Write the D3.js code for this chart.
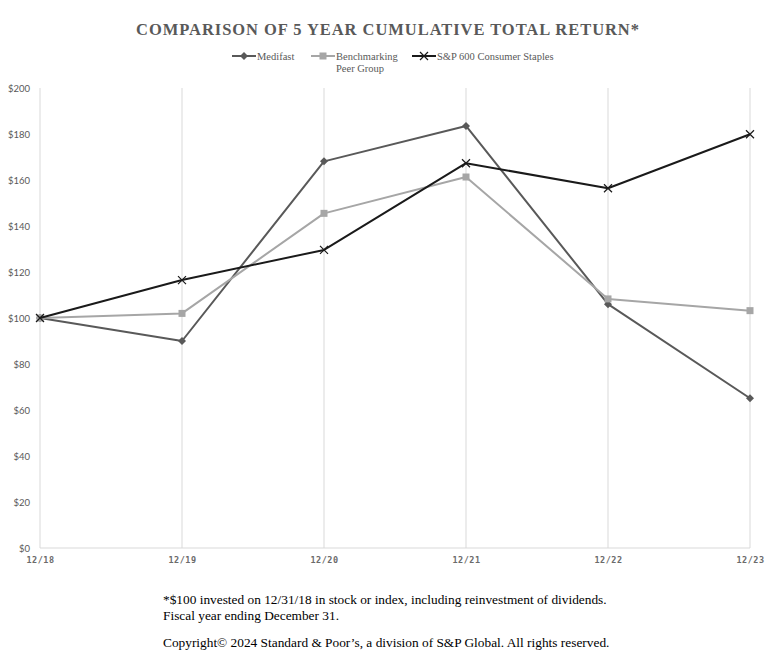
<!DOCTYPE html>
<html><head><meta charset="utf-8">
<script src="https://cdn.jsdelivr.net/npm/d3@7"></script>
<style>body{margin:0;background:#fff}svg{display:block}</style>
</head><body>
<svg id="c" width="779" height="667"></svg>
<script>
const categories = ["12/18","12/19","12/20","12/21","12/22","12/23"];
const medifast = [100, 90, 168.1, 183.5, 106, 65.1];
const peerGroup = [100, 102, 145.5, 161.3, 108.3, 103.2];
const spConsumerStaples = [100, 116.5, 129.6, 167.3, 156.4, 179.9];
const yTicks = [0,20,40,60,80,100,120,140,160,180,200];
const seriesNames = ["Medifast", "Benchmarking|Peer Group", "S&P 600 Consumer Staples"];

const svg = d3.select("#c");
const x = d3.scalePoint().domain(categories).range([40, 750]);
const y = d3.scaleLinear().domain([0, 200]).range([548, 88]);

// title
svg.append("text").attr("x", 388).attr("y", 35).attr("text-anchor", "middle")
  .attr("font-family", "Liberation Serif, serif").attr("font-weight", "bold")
  .attr("font-size", 16.5).attr("letter-spacing", 0.95).attr("fill", "#595959")
  .text("COMPARISON OF 5 YEAR CUMULATIVE TOTAL RETURN*");

// gridlines (vertical)
svg.append("g").selectAll("line").data(categories).join("line")
  .attr("x1", d => x(d)).attr("x2", d => x(d)).attr("y1", y(200)).attr("y2", y(0))
  .attr("stroke", "#d9d9d9").attr("stroke-width", 1);
// baseline
svg.append("line").attr("x1", 40).attr("x2", 750).attr("y1", y(0)).attr("y2", y(0))
  .attr("stroke", "#d9d9d9");

// y axis
const yAxis = d3.axisLeft(y).tickValues(yTicks).tickSize(0).tickPadding(0).tickFormat(d => "$" + d);
const gy = svg.append("g").attr("transform", "translate(30,0)").call(yAxis);
gy.select(".domain").remove();
gy.selectAll("text").attr("font-family", "Lato, sans-serif").attr("font-size", 9.5).attr("fill", "#595959");

// x axis
const xAxis = d3.axisBottom(x).tickSize(0).tickPadding(0);
const gx = svg.append("g").attr("transform", "translate(0,557)").call(xAxis);
gx.select(".domain").remove();
gx.selectAll("text").attr("font-family", "DejaVu Sans Mono, monospace").attr("font-weight", "bold")
  .attr("font-size", 8.5).attr("fill", "#6b6b6b").attr("letter-spacing", 0.5);

const series = [
  {vals: medifast, color: "#595959", marker: "diamond", w: 2},
  {vals: peerGroup, color: "#a6a6a6", marker: "square", w: 2},
  {vals: spConsumerStaples, color: "#1a1a1a", marker: "x", w: 2}
];
const line = d3.line().x((d, i) => x(categories[i])).y(d => y(d));

function drawMarker(g, type, cx, cy, color) {
  if (type === "diamond") {
    g.append("path").attr("d", `M${cx},${cy-4}L${cx+4},${cy}L${cx},${cy+4}L${cx-4},${cy}Z`).attr("fill", color);
  } else if (type === "square") {
    g.append("rect").attr("x", cx-3.5).attr("y", cy-3.5).attr("width", 7).attr("height", 7).attr("fill", color);
  } else {
    g.append("path").attr("d", `M${cx-4},${cy-4}L${cx+4},${cy+4}M${cx-4},${cy+4}L${cx+4},${cy-4}`)
      .attr("stroke", color).attr("stroke-width", 1.2).attr("fill", "none");
  }
}

series.forEach(s => {
  svg.append("path").datum(s.vals).attr("d", line).attr("fill", "none")
    .attr("stroke", s.color).attr("stroke-width", s.w).attr("stroke-linejoin", "round");
  const g = svg.append("g");
  s.vals.forEach((v, i) => drawMarker(g, s.marker, x(categories[i]), y(v), s.color));
});

// legend
const legendX = [232, 311, 412];
series.forEach((s, i) => {
  const lx = legendX[i], ly = 56;
  const g = svg.append("g");
  g.append("line").attr("x1", lx).attr("x2", lx + 24).attr("y1", ly).attr("y2", ly)
    .attr("stroke", s.color).attr("stroke-width", 2);
  drawMarker(g, s.marker, lx + 12, ly, s.color);
  const lines = seriesNames[i].split("|");
  const t = g.append("text").attr("x", lx + 25).attr("y", ly + 3.5)
    .attr("font-family", "Liberation Serif, serif").attr("font-size", 10.5).attr("fill", "#595959");
  lines.forEach((ln, j) => t.append("tspan").attr("x", lx + 25).attr("dy", j ? 12 : 0).text(ln));
});

// footnotes
const foot = svg.append("g").attr("font-family", "Liberation Serif, serif").attr("font-size", 13.35).attr("fill", "#000");
foot.append("text").attr("x", 163).attr("y", 604).text("*$100 invested on 12/31/18 in stock or index, including reinvestment of dividends.");
foot.append("text").attr("x", 163).attr("y", 620).text("Fiscal year ending December 31.");
foot.append("text").attr("x", 163).attr("y", 647).text("Copyright\u00A9 2024 Standard & Poor\u2019s, a division of S&P Global. All rights reserved.");
</script>
</body></html>
